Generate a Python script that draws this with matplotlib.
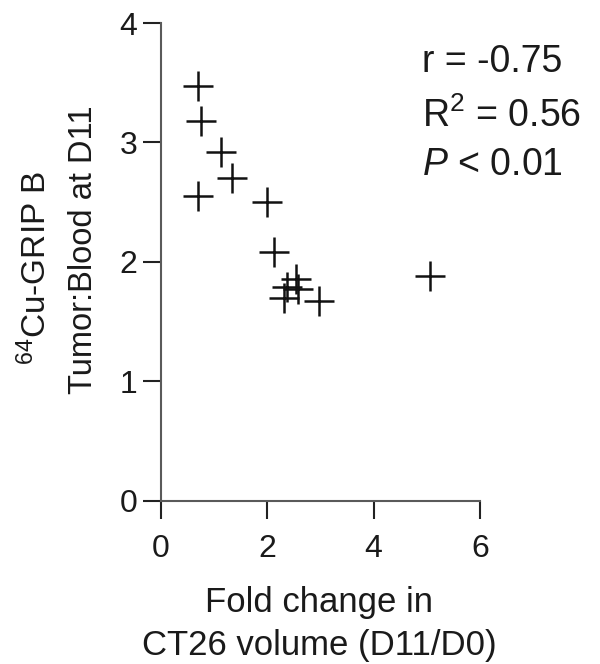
import matplotlib
matplotlib.use("Agg")
import matplotlib.pyplot as plt

# fold change in CT26 volume (D11/D0) vs tumor:blood ratio
fold_change = [0.70, 0.75, 1.13, 1.33, 0.70, 2.00, 2.13, 2.54, 2.37, 2.58, 2.32, 2.98, 5.06]
tumor_blood = [3.47, 3.18, 2.92, 2.70, 2.55, 2.50, 2.08, 1.86, 1.79, 1.77, 1.70, 1.67, 1.88]

x_ticks = [0, 2, 4, 6]
y_ticks = [0, 1, 2, 3, 4]
stats_lines = ["r = -0.75", "R$^2$ = 0.56", "$P$ < 0.01"]

plt.rcParams["font.family"] = ["Liberation Sans", "DejaVu Sans"]
plt.rcParams["mathtext.fontset"] = "custom"
plt.rcParams["mathtext.rm"] = "Liberation Sans"
plt.rcParams["mathtext.it"] = "Liberation Sans:italic"

W, H = 600, 664
fig = plt.figure(figsize=(6, 6.64), dpi=100)
ax = fig.add_axes([0.2683, 0.2459, 0.5317, 0.7194])

ax.plot(fold_change, tumor_blood, linestyle="none", marker="+", markersize=22,
        markeredgewidth=1.8, color="#111111", clip_on=False)

ax.set_xlim(0, 6)
ax.set_ylim(0, 4)
ax.set_xticks(x_ticks)
ax.set_yticks(y_ticks)

for side in ["top", "right"]:
    ax.spines[side].set_visible(False)
for side in ["left", "bottom"]:
    ax.spines[side].set_color("#5a5a5a")
    ax.spines[side].set_linewidth(1.5)

ax.tick_params(axis="both", length=13, width=1.5, color="#222222",
               labelsize=23, labelcolor="#1a1a1a")
ax.tick_params(axis="x", pad=11)
ax.tick_params(axis="y", pad=4)

txt = dict(color="#1a1a1a")

# x label, two lines
fig.text(319 / W, 1 - 612 / H, "Fold change in", fontsize=25,
         ha="center", va="baseline", **txt)
fig.text(319 / W, 1 - 655 / H, "CT26 volume (D11/D0)", fontsize=25,
         ha="center", va="baseline", **txt)

# y label, two lines
fig.text(46 / W, 1 - 268 / H, "$^{64}$Cu-GRIP B", fontsize=24, rotation=90,
         rotation_mode="anchor", ha="center", va="baseline", **txt)
fig.text(92 / W, 1 - 250 / H, "Tumor:Blood at D11", fontsize=23.5, rotation=90,
         rotation_mode="anchor", ha="center", va="baseline", **txt)

stats_baselines = [72, 127, 175]
for line, yb in zip(stats_lines, stats_baselines):
    fig.text(422 / W, 1 - yb / H, line, fontsize=27,
             ha="left", va="baseline", **txt)

fig.savefig("out.png", dpi=100)
